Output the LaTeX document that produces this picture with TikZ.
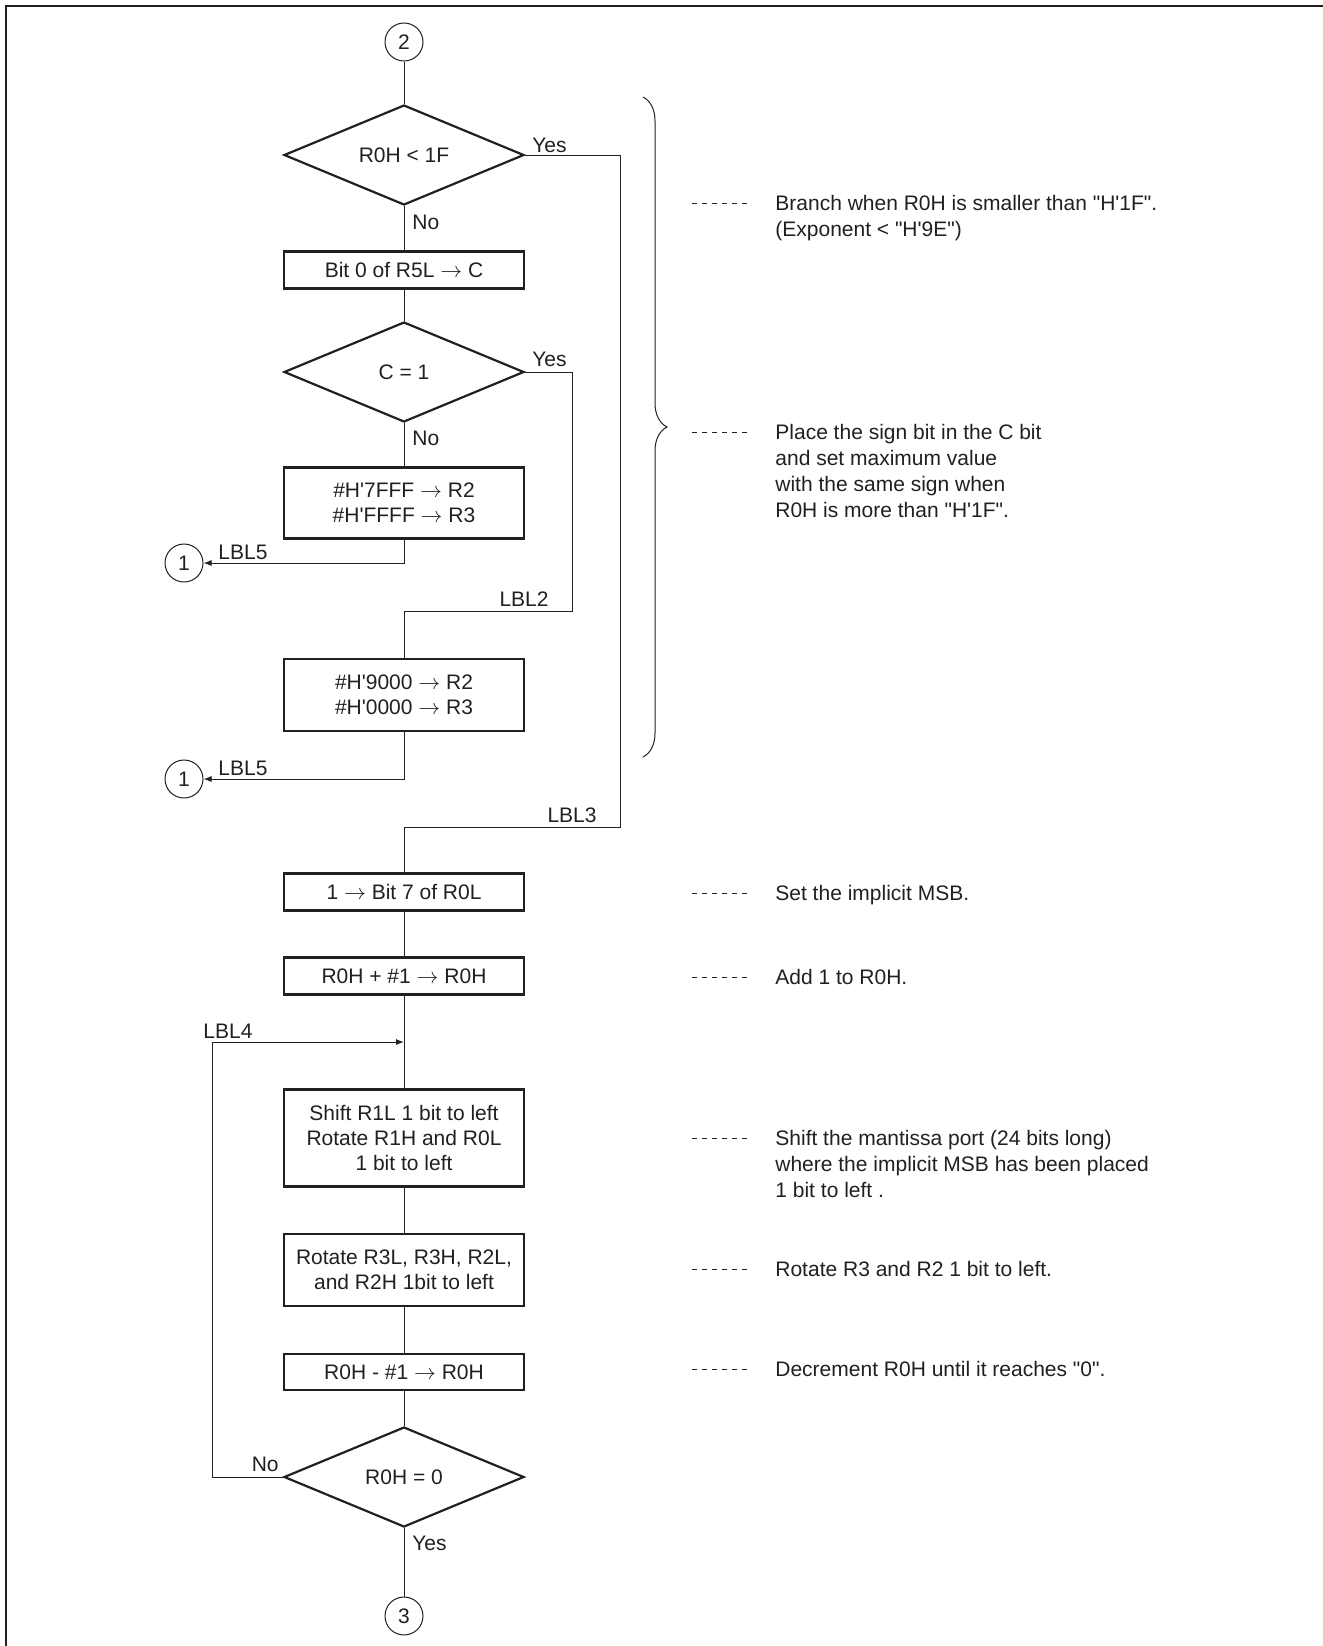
\documentclass[tikz,border=0pt]{standalone}
\usepackage{fontspec}
\newfontfamily\chartfont{Liberation Sans}
\usetikzlibrary{shapes.geometric, arrows.meta, decorations.pathreplacing}
\definecolor{ink}{RGB}{35,31,32}

\begin{document}
\begin{tikzpicture}[x = 0.5pt, y = -0.5pt, color = ink, font = \chartfont\fontsize{10.5}{12.5}\selectfont,
		process/.style = {draw, line width = 1.1pt, minimum width = 120pt, inner sep = 0pt, align = center},
		decision/.style = {diamond, draw, line width = 1.1pt, minimum width = 120pt, minimum height = 50pt, inner sep = 0pt, aspect = 2.4},
		connector/.style = {circle, draw, line width = 0.5pt, minimum size = 19pt, inner sep = 0pt},
		flow/.style = {line width = 0.5pt},
		jump/.style = {flow, -{Latex[length = 4pt, width = 3pt]}},
		tag/.style = {inner sep = 0pt},
		note/.style = {inner sep = 0pt, align = left, anchor = north west, font = \chartfont\fontsize{10.5}{13}\selectfont},
		leader/.style = {line width = 0.4pt, dash pattern = on 2.5pt off 2.5pt}]
					\def\colx{404};
					\def\notex{775};
					\def\exitx{184};

					\useasboundingbox (0,0) rectangle (1323,1646);
					\draw [line width = 1pt] (1323,6) -- (6,6) -- (6,1646);

					\begin{scope}
						\node [connector] (start) at (\colx,42) {2};
						\node [decision] (small) at (\colx,155) {R0H < 1F};
						\node [process, minimum height = 18.5pt] (getc) at (\colx,270) {Bit 0 of R5L $\rightarrow$ C};
						\node [decision] (sign) at (\colx,372) {C = 1};
						\node [process, minimum height = 35.5pt] (maxpos) at (\colx,503) {\#H'7FFF $\rightarrow$ R2\\\#H'FFFF $\rightarrow$ R3};
						\node [connector] (exita) at (\exitx,563) {1};
						\node [process, minimum height = 36pt] (maxneg) at (\colx,695) {\#H'9000 $\rightarrow$ R2\\\#H'0000 $\rightarrow$ R3};
						\node [connector] (exitb) at (\exitx,779) {1};
					\end{scope}

					\begin{scope}
						\node [process, minimum height = 18.5pt] (setmsb) at (\colx,892) {1 $\rightarrow$ Bit 7 of R0L};
						\node [process, minimum height = 18.5pt] (incr) at (\colx,976) {R0H + \#1 $\rightarrow$ R0H};
						\node [process, minimum height = 48.5pt] (shift) at (\colx,1138) {Shift R1L 1 bit to left\\Rotate R1H and R0L\\1 bit to left};
						\node [process, minimum height = 36pt] (rotate) at (\colx,1270) {Rotate R3L, R3H, R2L,\\and R2H 1bit to left};
						\node [process, minimum height = 18pt] (decr) at (\colx,1372) {R0H - \#1 $\rightarrow$ R0H};
						\node [decision] (zero) at (\colx,1477) {R0H = 0};
						\node [connector] (stop) at (\colx,1616) {3};
					\end{scope}

					\begin{scope}
						\coordinate (lbltwo) at (572,611);
						\coordinate (lblthree) at (620,827);
						\coordinate (lblfour) at (212,1042);
						\draw [flow] (start) -- (small);
						\draw [flow] (small) -- (getc);
						\draw [flow] (getc) -- (sign);
						\draw [flow] (sign) -- (maxpos);
						\draw [jump] (maxpos) |- (exita);
						\draw [flow] (sign.east) -| (lbltwo) -| (maxneg);
						\draw [jump] (maxneg) |- (exitb);
						\draw [flow] (small.east) -| (lblthree) -| (setmsb);
						\draw [flow] (setmsb) -- (incr);
						\draw [flow] (incr) -- (shift);
						\draw [flow] (shift) -- (rotate);
						\draw [flow] (rotate) -- (decr);
						\draw [flow] (decr) -- (zero);
						\draw [flow] (zero) -- (stop);
						\draw [jump] (zero.west) -| (lblfour) -- (lblfour -| incr);
					\end{scope}

					\begin{scope}[tag]
						\node [anchor = base west] (yesa) at (532,152) {Yes};
						\node [anchor = base west] (noa) at (412,229) {No};
						\node [anchor = base west] (yesb) at (532,366) {Yes};
						\node [anchor = base west] (nob) at (412,445) {No};
						\node [anchor = base west] (lblfivea) at (218,559) {LBL5};
						\node [anchor = base west] (lblfiveb) at (218,775) {LBL5};
						\node [anchor = base east] (lbltwotag) at (549,606) {LBL2};
						\node [anchor = base east] (lblthreetag) at (597,822) {LBL3};
						\node [anchor = base west] (lblfourtag) at (203,1038) {LBL4};
						\node [anchor = base east] (noc) at (279,1471) {No};
						\node [anchor = base west] (yesc) at (412,1550) {Yes};
					\end{scope}

					\begin{scope}
						\draw [line width = 0.5pt, decorate, decoration = {brace, amplitude = 12pt}] (643,97) -- (643,757);
						\node [note] (branch) at (\notex,195) {Branch when R0H is smaller than "H'1F".\\(Exponent < "H'9E")};
						\node [note] (maxval) at (\notex,424) {Place the sign bit in the C bit\\and set maximum value\\with the same sign when\\R0H is more than "H'1F".};
						\node [note] (msb) at (\notex,885) {Set the implicit MSB.};
						\node [note] (addone) at (\notex,969) {Add 1 to R0H.};
						\node [note] (mant) at (\notex,1130) {Shift the mantissa port (24 bits long)\\where the implicit MSB has been placed\\1 bit to left .};
						\node [note] (rotr) at (\notex,1261) {Rotate R3 and R2 1 bit to left.};
						\node [note] (decnote) at (\notex,1361) {Decrement R0H until it reaches "0".};
						\foreach \n in {branch, maxval, msb, addone, mant, rotr, decnote}
							\draw [leader] ([shift = {(-83,8)}]\n.north west) -- ++(55,0);
					\end{scope}
				\end{tikzpicture}
\end{document}
